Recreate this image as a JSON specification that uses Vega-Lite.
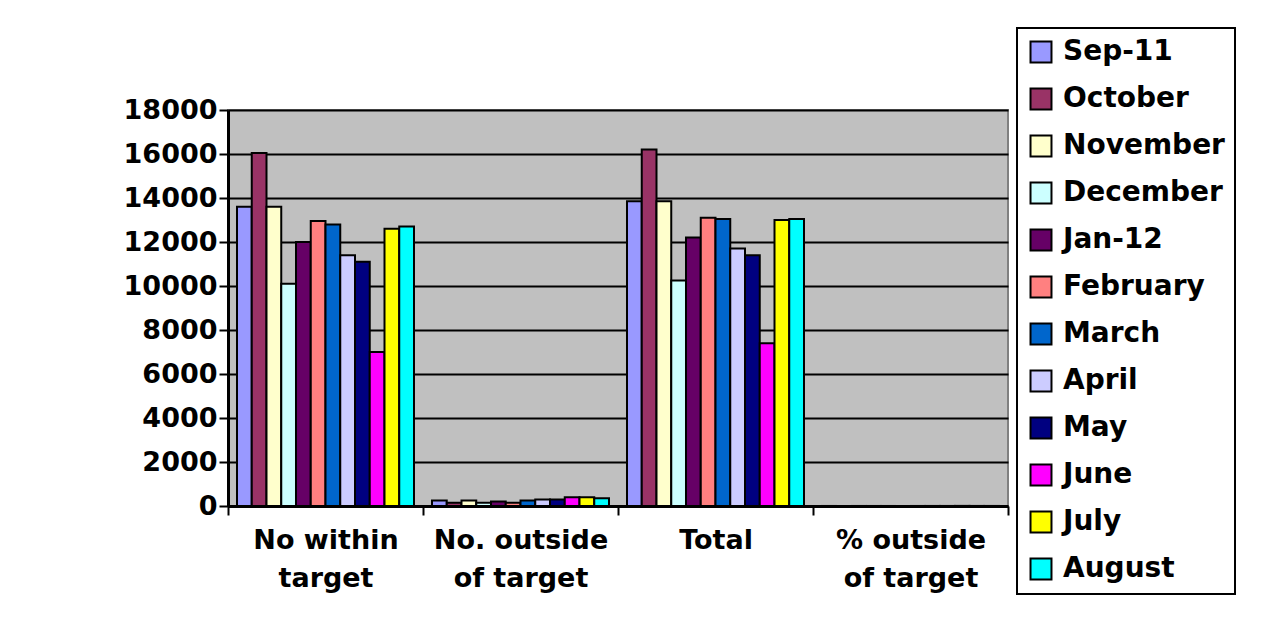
{
  "$schema": "https://vega.github.io/schema/vega-lite/v6.json",
  "width": 780,
  "height": 396,
  "autosize": {"type": "none"},
  "padding": {"left": 228, "top": 110, "right": 280, "bottom": 114},
  "background": "white",
  "config": {
    "view": {"fill": "#C0C0C0", "stroke": "#808080", "strokeWidth": 2},
    "font": "DejaVu Sans"
  },
  "data": {
    "values": [
      {"measure": "No within target", "month": "Sep-11", "value": 13600},
      {"measure": "No within target", "month": "October", "value": 16050},
      {"measure": "No within target", "month": "November", "value": 13600},
      {"measure": "No within target", "month": "December", "value": 10100},
      {"measure": "No within target", "month": "Jan-12", "value": 12000},
      {"measure": "No within target", "month": "February", "value": 12950},
      {"measure": "No within target", "month": "March", "value": 12800},
      {"measure": "No within target", "month": "April", "value": 11400},
      {"measure": "No within target", "month": "May", "value": 11100},
      {"measure": "No within target", "month": "June", "value": 7000},
      {"measure": "No within target", "month": "July", "value": 12600},
      {"measure": "No within target", "month": "August", "value": 12700},
      {"measure": "No. outside of target", "month": "Sep-11", "value": 250},
      {"measure": "No. outside of target", "month": "October", "value": 150},
      {"measure": "No. outside of target", "month": "November", "value": 250},
      {"measure": "No. outside of target", "month": "December", "value": 150},
      {"measure": "No. outside of target", "month": "Jan-12", "value": 200},
      {"measure": "No. outside of target", "month": "February", "value": 150},
      {"measure": "No. outside of target", "month": "March", "value": 250},
      {"measure": "No. outside of target", "month": "April", "value": 300},
      {"measure": "No. outside of target", "month": "May", "value": 300},
      {"measure": "No. outside of target", "month": "June", "value": 400},
      {"measure": "No. outside of target", "month": "July", "value": 400},
      {"measure": "No. outside of target", "month": "August", "value": 350},
      {"measure": "Total", "month": "Sep-11", "value": 13850},
      {"measure": "Total", "month": "October", "value": 16200},
      {"measure": "Total", "month": "November", "value": 13850},
      {"measure": "Total", "month": "December", "value": 10250},
      {"measure": "Total", "month": "Jan-12", "value": 12200},
      {"measure": "Total", "month": "February", "value": 13100},
      {"measure": "Total", "month": "March", "value": 13050},
      {"measure": "Total", "month": "April", "value": 11700},
      {"measure": "Total", "month": "May", "value": 11400},
      {"measure": "Total", "month": "June", "value": 7400},
      {"measure": "Total", "month": "July", "value": 13000},
      {"measure": "Total", "month": "August", "value": 13050},
      {"measure": "% outside of target", "month": "Sep-11", "value": 1.8},
      {"measure": "% outside of target", "month": "October", "value": 0.9},
      {"measure": "% outside of target", "month": "November", "value": 1.8},
      {"measure": "% outside of target", "month": "December", "value": 1.5},
      {"measure": "% outside of target", "month": "Jan-12", "value": 1.6},
      {"measure": "% outside of target", "month": "February", "value": 1.1},
      {"measure": "% outside of target", "month": "March", "value": 1.9},
      {"measure": "% outside of target", "month": "April", "value": 2.6},
      {"measure": "% outside of target", "month": "May", "value": 2.6},
      {"measure": "% outside of target", "month": "June", "value": 5.4},
      {"measure": "% outside of target", "month": "July", "value": 3.1},
      {"measure": "% outside of target", "month": "August", "value": 2.7}
    ]
  },
  "mark": {"type": "bar", "stroke": "black", "strokeWidth": 2},
  "encoding": {
    "x": {
      "field": "measure",
      "type": "nominal",
      "sort": ["No within target", "No. outside of target", "Total", "% outside of target"],
      "scale": {"paddingInner": 0, "paddingOuter": 0},
      "axis": {
        "title": null,
        "labelAngle": 0,
        "labelExpr": "datum.value == 'No within target' ? ['No within', 'target'] : datum.value == 'No. outside of target' ? ['No. outside', 'of target'] : datum.value == '% outside of target' ? ['% outside', 'of target'] : datum.value",
        "labelFont": "DejaVu Sans",
        "labelFontSize": 27,
        "labelFontWeight": "bold",
        "labelColor": "black",
        "labelLineHeight": 38,
        "labelPadding": 12,
        "tickBand": "extent",
        "tickColor": "black",
        "tickWidth": 2,
        "tickSize": 9,
        "domainColor": "black",
        "domainWidth": 3
      }
    },
    "xOffset": {
      "field": "month",
      "type": "nominal",
      "sort": ["Sep-11", "October", "November", "December", "Jan-12", "February", "March", "April", "May", "June", "July", "August"],
      "scale": {"paddingInner": 0, "paddingOuter": 0.61}
    },
    "y": {
      "field": "value",
      "type": "quantitative",
      "scale": {"domain": [0, 18000], "nice": false},
      "axis": {
        "title": null,
        "values": [0, 2000, 4000, 6000, 8000, 10000, 12000, 14000, 16000, 18000],
        "format": "d",
        "labelFont": "DejaVu Sans",
        "labelFontSize": 27,
        "labelFontWeight": "bold",
        "labelColor": "black",
        "labelPadding": 2,
        "tickColor": "black",
        "tickWidth": 2,
        "tickSize": 9,
        "domainColor": "black",
        "domainWidth": 3,
        "grid": true,
        "gridColor": "black",
        "gridWidth": 2,
        "gridOpacity": 1
      }
    },
    "color": {
      "field": "month",
      "type": "nominal",
      "scale": {
        "domain": ["Sep-11", "October", "November", "December", "Jan-12", "February", "March", "April", "May", "June", "July", "August"],
        "range": ["#9999FF", "#993366", "#FFFFCC", "#CCFFFF", "#660066", "#FF8080", "#0066CC", "#CCCCFF", "#000080", "#FF00FF", "#FFFF00", "#00FFFF"]
      },
      "legend": {
        "title": null,
        "orient": "none",
        "legendX": 789,
        "legendY": -82,
        "symbolType": "square",
        "symbolSize": 440,
        "symbolStrokeColor": "black",
        "symbolStrokeWidth": 2,
        "symbolOpacity": 1,
        "labelFont": "DejaVu Sans",
        "labelFontSize": 28,
        "labelFontWeight": "bold",
        "labelColor": "black",
        "labelOffset": 8,
        "labelLimit": 300,
        "rowPadding": 17,
        "padding": 10,
        "strokeColor": "black",
        "fillColor": "white",
        "encode": {"legend": {"update": {"strokeWidth": {"value": 2}}}}
      }
    }
  }
}
